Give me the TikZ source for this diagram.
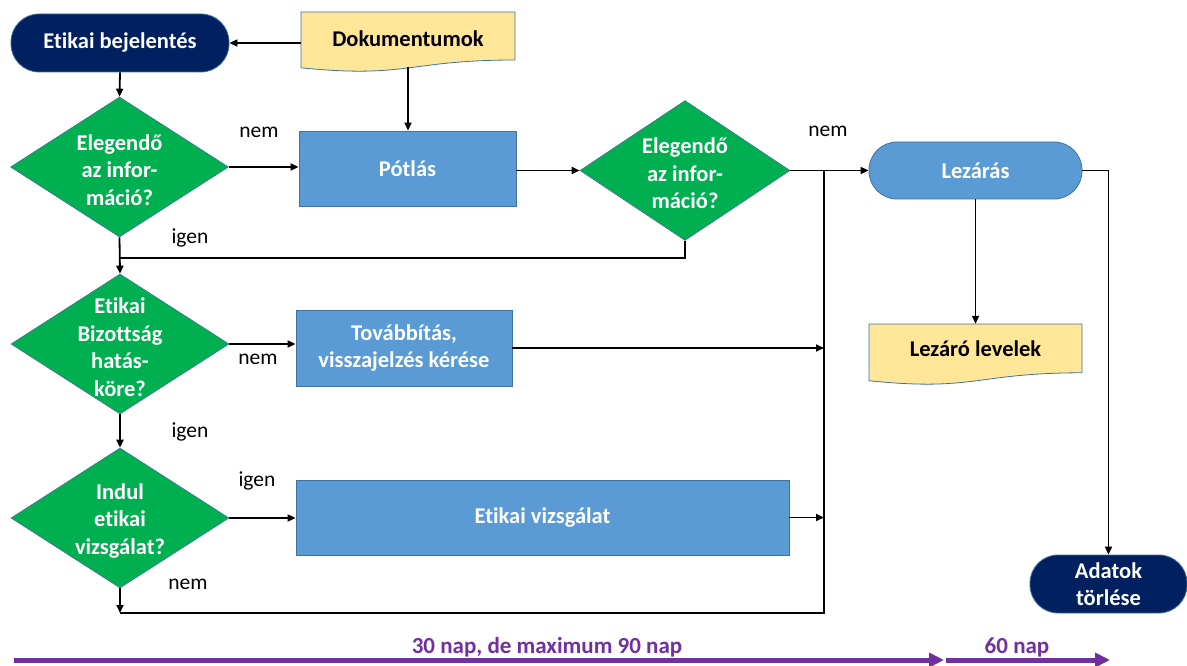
\documentclass[tikz,border=0pt]{standalone}
\usepackage{fontspec}
\setmainfont{Carlito}[Ligatures=NoCommon]
\usetikzlibrary{shapes.geometric,arrows.meta,backgrounds}
\definecolor{navy}{HTML}{002060}
\definecolor{procblue}{HTML}{5B9BD5}
\definecolor{decgreen}{HTML}{00B050}
\definecolor{docyellow}{HTML}{FFE699}
\definecolor{bordc}{HTML}{41719C}
\definecolor{purp}{HTML}{7030A0}
\newcommand\docshape[4]{%
  \filldraw[fill=docyellow,draw=bordc,line width=0.8pt]
    (#1,#2) -- (#3,#2) -- (#3,{#2+0.80*#4})
    .. controls ({(#1+#3)/2},{#2+0.80*#4}) and ({(#1+#3)/2},{#2+1.11*#4}) ..
    (#1,{#2+0.93*#4}) -- cycle;}
\tikzset{
  base/.style={font=\fontsize{22.5}{27.5}\selectfont\bfseries, align=center, inner sep=0pt},
  term/.style={base, rounded corners=28pt, draw=bordc, line width=0.8pt, text=white},
  proc/.style={base, fill=procblue, draw=bordc, line width=0.8pt, text=white},
  dia/.style={diamond, fill=decgreen, draw=bordc, line width=0.6pt, inner sep=0pt, minimum width=218pt, minimum height=140pt},
  diatext/.style={base, text=white, yshift=-3pt},
  doctext/.style={base, text=black},
  arr/.style={line width=1.8pt, -{Triangle[length=8pt,width=7pt]}},
  ln/.style={line width=1.8pt},
  lab/.style={font=\fontsize{21.5}{26}\selectfont, inner sep=0pt},
  tl/.style={line width=5pt, draw=purp, -{Triangle[length=15pt,width=14pt]}},
  tltext/.style={font=\fontsize{23}{26}\selectfont\bfseries, text=purp, inner sep=0pt}
}
\begin{document}
\begin{tikzpicture}[x=1pt,y=-1pt]
\useasboundingbox (0,0) rectangle (1187,666);
% documents (drawn shapes)
\docshape{301}{12}{515}{60}
\docshape{869}{324}{1082}{61}
% nodes
\node[term, fill=navy, minimum width=218pt, minimum height=58pt] (eb) at (120,43) {Etikai bejelentés};
\node[doctext, minimum width=214pt, minimum height=56pt] (dok) at (408,39) {Dokumentumok};
\node[dia, label={[diatext]center:Elegendő\\az infor-\\máció?}] (d1) at (119.5,167) {};
\node[proc, minimum width=217pt, minimum height=75pt] (pot) at (407.5,168.5) {Pótlás};
\node[dia, minimum width=210pt, label={[diatext]center:Elegendő\\az infor-\\máció?}] (d2) at (685,170.5) {};
\node[term, fill=procblue, minimum width=213pt, minimum height=57pt] (lez) at (975.5,170.5) {Lezárás};
\node[doctext, minimum width=213pt, minimum height=50pt] (lzl) at (975.5,349) {Lezáró levelek};
\node[dia, label={[diatext]center:Etikai\\Bizottság\\hatás-\\köre?}] (d3) at (120,344) {};
\node[proc, minimum width=216pt, minimum height=76pt] (tov) at (404,348) {Továbbítás,\\visszajelzés kérése};
\node[dia, label={[diatext]center:Indul\\etikai\\vizsgálat?}] (d4) at (120,518) {};
\node[proc, minimum width=493pt, minimum height=75pt] (ev) at (542.5,517.5) {Etikai vizsgálat};
\node[term, fill=navy, minimum width=157pt, minimum height=58pt] (ad) at (1108.5,584) {Adatok\\törlése};
% helper coordinates
\coordinate (j1) at (120,258);
\coordinate (busB) at (824,613);
% connectors
\draw[arr] (eb.east -| dok.west) -- (eb.east);
\draw[arr] (dok.south) -- (dok.south |- pot.north);
\draw[arr] (eb.south) -- (d1.north);
\draw[arr] (d1.east) -- (d1.east -| pot.west);
\draw[arr] (pot.east |- d2.west) -- (d2.west);
\draw[arr] (d2.east) -- (d2.east -| lez.west);
\draw[ln] (d2.south) |- (j1);
\draw[arr] (d1.south) -- (d3.north);
\draw[arr] (d3.east) -- (d3.east -| tov.west);
\draw[arr] (tov.east) -- (tov.east -| busB);
\draw[arr] (d3.south) -- (d4.north);
\draw[arr] (d4.east) -- (d4.east -| ev.west);
\draw[arr] (ev.east) -- (ev.east -| busB);
\draw[arr] (d4.south) -- (d4.south |- busB);
\draw[ln] (d4.south |- busB) -- (busB) -- (busB |- d2.east);
\draw[arr] (lez.south) -- (lez.south |- lzl.north);
\draw[arr] (lez.east) -| (ad.north);
% labels
\node[lab] (l1) at (259,132) {nem};
\node[lab] (l2) at (828,131) {nem};
\node[lab] (l3) at (190,238) {igen};
\node[lab] (l4) at (258,359) {nem};
\node[lab] (l5) at (190,432) {igen};
\node[lab] (l6) at (257,481) {igen};
\node[lab] (l7) at (188,584) {nem};
% timeline
\coordinate (t0) at (14,660);
\coordinate (t1) at (944,660);
\coordinate (t2) at (946,660);
\coordinate (t3) at (1110,660);
\draw[tl] (t0) -- (t1);
\draw[tl] (t2) -- (t3);
\node[tltext] (tx1) at (547,647) {30 nap, de maximum 90 nap};
\node[tltext] (tx2) at (1017,647) {60 nap};
\end{tikzpicture}
\end{document}
